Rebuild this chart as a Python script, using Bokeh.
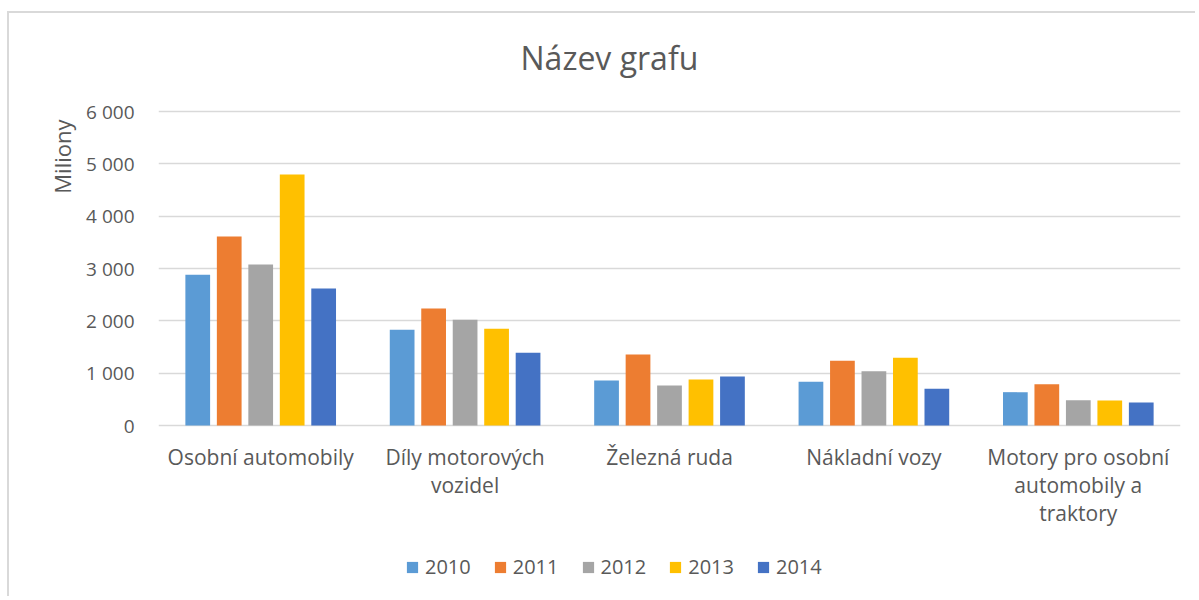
import numpy as np
from bokeh.plotting import figure
from bokeh.models import (ColumnDataSource, Range1d, FixedTicker, Title, Label,
                          Legend, LegendItem)
from bokeh.core.properties import value
from bokeh.embed import file_html
from bokeh.resources import INLINE

# ---- data ----
categories = ["Osobní automobily", "Díly motorových vozidel", "Železná ruda",
              "Nákladní vozy", "Motory pro osobní automobily a traktory"]
category_labels = ["Osobní automobily", "Díly motorových\nvozidel", "Železná ruda",
                   "Nákladní vozy", "Motory pro osobní\nautomobily a\ntraktory"]
years = ["2010", "2011", "2012", "2013", "2014"]
s2010 = [2880, 1830, 860, 835, 637]
s2011 = [3612, 2236, 1357, 1236, 790]
s2012 = [3077, 2020, 764, 1038, 484]
s2013 = [4797, 1847, 879, 1293, 478]
s2014 = [2618, 1389, 936, 701, 440]
series = [s2010, s2011, s2012, s2013, s2014]
colors = ["#5B9BD5", "#ED7D31", "#A5A5A5", "#FFC000", "#4472C4"]
y_ticks = [0, 1000, 2000, 3000, 4000, 5000, 6000]
y_tick_labels = ["0", "1 000", "2 000", "3 000", "4 000", "5 000", "6 000"]

FONT = "Open Sans"
TXT = "#595959"
GRID = "#D9D9D9"

# layout (pixels): frame spans full canvas height; value axis 0..6000 maps to 314 px
CANVAS_TOP, FRAME_H = 13, 585
PX_ZERO, PX_TOP = 425, 111
upp = 6000 / (PX_ZERO - PX_TOP)           # units per pixel
y_hi = (PX_ZERO - CANVAS_TOP) * upp
y_lo = -(CANVAS_TOP + FRAME_H - PX_ZERO) * upp

p = figure(width=1188, height=FRAME_H, output_backend="svg", toolbar_location=None,
           x_range=Range1d(0, len(categories)), y_range=Range1d(y_lo, y_hi),
           x_axis_location=None,
           min_border_left=149, min_border_right=17, min_border_top=0,
           min_border_bottom=0)
p.margin = (11, 0, 0, 7)
p.styles = {"border-left": "2px solid #D9D9D9", "border-top": "2px solid #D9D9D9"}
p.outline_line_color = None
p.background_fill_color = "white"
p.border_fill_color = "white"

centers = np.arange(len(categories)) + 0.5
pitch = 0.154
bw = 0.121
items = []
for j, (yr, vals, c) in enumerate(zip(years, series, colors)):
    src = ColumnDataSource(dict(x=centers + (j - 2) * pitch, top=vals))
    r = p.vbar(x="x", top="top", bottom=0, width=bw, source=src,
               fill_color=c, line_color=None)
    items.append(LegendItem(label=yr, renderers=[r]))

# grids: only horizontal value lines
for g in p.grid:
    if g.dimension == 0:
        g.visible = False
p.ygrid.grid_line_color = GRID
p.ygrid.grid_line_width = 1.3
p.ygrid.ticker = FixedTicker(ticks=y_ticks)

# value axis
p.yaxis.ticker = FixedTicker(ticks=y_ticks)
p.yaxis.major_label_overrides = {t: l for t, l in zip(y_ticks, y_tick_labels)}
p.yaxis.axis_line_color = None
p.yaxis.major_tick_line_color = None
p.yaxis.minor_tick_line_color = None
p.yaxis.major_label_standoff = 18
p.yaxis.major_label_text_font = FONT
p.yaxis.major_label_text_font_size = "19px"
p.yaxis.major_label_text_color = TXT

# category labels under the bars
lab_src = ColumnDataSource(dict(x=centers, y=np.full(len(centers), -330.0),
                                text=category_labels))
p.text(x="x", y="y", text="text", source=lab_src, text_align="center",
       text_baseline="top", text_font=value(FONT), text_font_size="21px",
       text_color=TXT, text_line_height=1.0)

# chart title
p.add_layout(Label(x=2.206, y=7032, text="Název grafu", text_align="center",
                   text_baseline="middle", text_font=FONT, text_font_size="32px",
                   text_color=TXT))

# y-axis title placed in the upper part of the axis
ytitle = Title(text="Miliony", align="right", offset=106, standoff=14,
               text_font=FONT, text_font_size="22px", text_font_style="normal",
               text_color=TXT)
p.add_layout(ytitle, "left")

legend = Legend(items=items, orientation="horizontal", location=(247, 18),
                glyph_width=14, glyph_height=14, label_standoff=6, spacing=22,
                padding=0, margin=0, border_line_color=None,
                background_fill_alpha=0, label_text_font=FONT,
                label_text_font_size="20px", label_text_color=TXT)
p.add_layout(legend, "center")

open("out.html", "w").write(file_html(p, INLINE))
